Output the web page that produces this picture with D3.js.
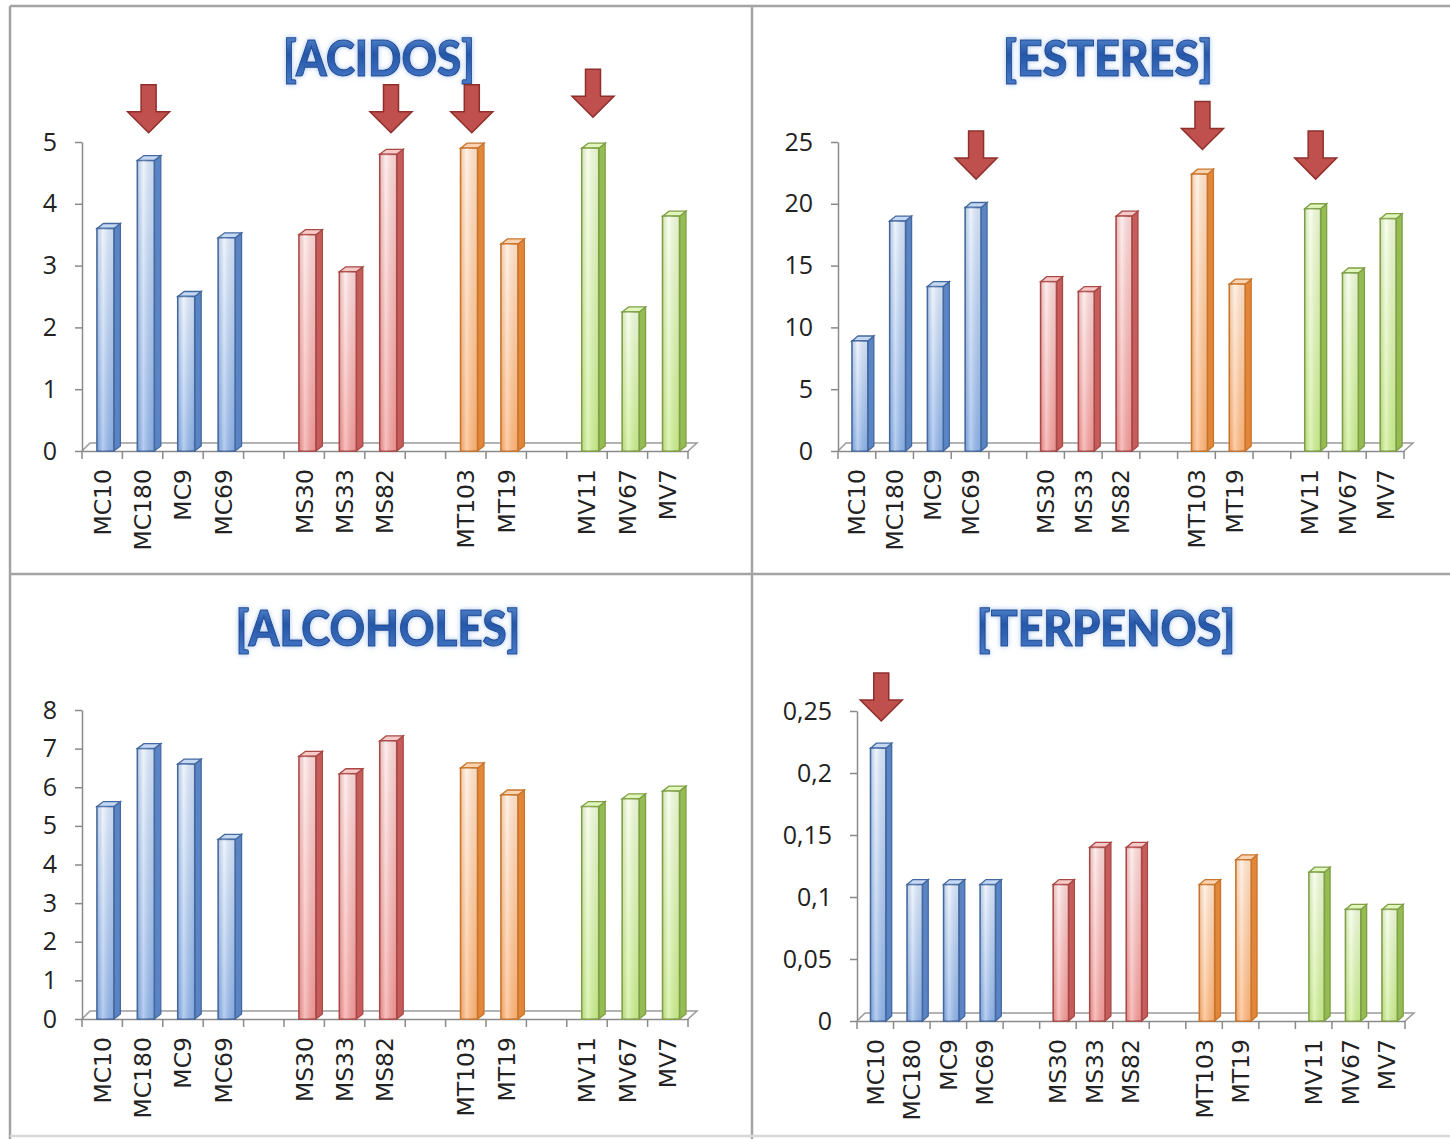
<!DOCTYPE html>
<html>
<head>
<meta charset="utf-8">
<script src="https://cdn.jsdelivr.net/npm/d3@7"></script>
<style>
  body { margin: 0; background: #fff; }
  svg { display: block; }
</style>
</head>
<body>
<svg id="chart" width="1450" height="1139"></svg>
<script>
// categories, grouped by family (a blank slot sits between groups)
const groups = [
  ["MC10", "MC180", "MC9", "MC69"],
  ["MS30", "MS33", "MS82"],
  ["MT103", "MT19"],
  ["MV11", "MV67", "MV7"]
];
const categories = groups.flat();

// values, same order as categories
const acidos    = [3.6, 4.7, 2.5, 3.45, 3.5, 2.9, 4.8, 4.9, 3.35, 4.9, 2.25, 3.8];
const esteres   = [8.9, 18.6, 13.3, 19.7, 13.7, 12.9, 19.0, 22.4, 13.5, 19.6, 14.4, 18.8];
const alcoholes = [5.5, 7.0, 6.6, 4.65, 6.8, 6.35, 7.2, 6.5, 5.8, 5.5, 5.7, 5.9];
const terpenos  = [0.22, 0.11, 0.11, 0.11, 0.11, 0.14, 0.14, 0.11, 0.13, 0.12, 0.09, 0.09];

// y tick labels
const ticksAcidos    = [0, 1, 2, 3, 4, 5];
const ticksEsteres   = [0, 5, 10, 15, 20, 25];
const ticksAlcoholes = [0, 1, 2, 3, 4, 5, 6, 7, 8];
const ticksTerpenos  = [0, 0.05, 0.1, 0.15, 0.2, 0.25];

// red arrows: [category, value at arrow tip]
const arrowsAcidos   = [["MC180", 5.15], ["MS82", 5.15], ["MT103", 5.15], ["MV11", 5.4]];
const arrowsEsteres  = [["MC69", 22], ["MT103", 24.4], ["MV11", 22]];
const arrowsTerpenos = [["MC10", 0.242]];

const slots = groups.flatMap((g, i) => i < groups.length - 1 ? g.concat(["gap" + i]) : g);
const groupOf = {};
groups.forEach((g, i) => g.forEach(c => groupOf[c] = i));

const palette = [
  {light: "#e6effc", dark: "#8fb3e8", side: "#5a84c4", top: "#c6d9f4", stroke: "#44699f"},
  {light: "#fde6e6", dark: "#f39d9b", side: "#c45d5b", top: "#f7c9c8", stroke: "#a94845"},
  {light: "#feebdb", dark: "#fbb37a", side: "#e2873a", top: "#fcd3b1", stroke: "#c8742b"},
  {light: "#f5fde6", dark: "#cbee8e", side: "#94bc52", top: "#e1f6bb", stroke: "#7f9f46"}
];

const comma = d3.formatLocale({decimal: ",", thousands: ".", grouping: [3], currency: ["", ""]});

const panels = [
  {title: "[ACIDOS]", values: acidos, ticks: ticksAcidos, max: 5, arrows: arrowsAcidos,
   x0: 82, x1: 688, y0: 451, yTop: 142, tx: 379, ty: 76, tlen: 192, fmt: d3.format("d")},
  {title: "[ESTERES]", values: esteres, ticks: ticksEsteres, max: 25, arrows: arrowsEsteres,
   x0: 838, x1: 1404, y0: 451, yTop: 142, tx: 1108, ty: 76, tlen: 210, fmt: d3.format("d")},
  {title: "[ALCOHOLES]", values: alcoholes, ticks: ticksAlcoholes, max: 8, arrows: [],
   x0: 82, x1: 688, y0: 1019, yTop: 710, tx: 378, ty: 646, tlen: 285, fmt: d3.format("d")},
  {title: "[TERPENOS]", values: terpenos, ticks: ticksTerpenos, max: 0.25, arrows: arrowsTerpenos,
   x0: 857, x1: 1405, y0: 1021, yTop: 711, tx: 1106, ty: 646, tlen: 259, fmt: comma.format("~g")}
];

const svg = d3.select("#chart");
const defs = svg.append("defs");

palette.forEach((p, i) => {
  const g = defs.append("linearGradient").attr("id", "front" + i)
      .attr("x1", 0).attr("y1", 0).attr("x2", 0).attr("y2", 1);
  g.append("stop").attr("offset", "0%").attr("stop-color", p.light);
  g.append("stop").attr("offset", "100%").attr("stop-color", p.dark);
  const h = defs.append("linearGradient").attr("id", "shine" + i)
      .attr("x1", 0).attr("y1", 0).attr("x2", 1).attr("y2", 0);
  h.append("stop").attr("offset", "0%").attr("stop-color", p.stroke).attr("stop-opacity", 0.25);
  h.append("stop").attr("offset", "35%").attr("stop-color", "#fff").attr("stop-opacity", 0.35);
  h.append("stop").attr("offset", "100%").attr("stop-color", p.stroke).attr("stop-opacity", 0.15);
});

const tg = defs.append("linearGradient").attr("id", "titleFill")
    .attr("x1", 0).attr("y1", 0).attr("x2", 0).attr("y2", 1);
tg.append("stop").attr("offset", "0%").attr("stop-color", "#6b9be0");
tg.append("stop").attr("offset", "45%").attr("stop-color", "#2557a8");
tg.append("stop").attr("offset", "100%").attr("stop-color", "#4a7dcc");

const glow = defs.append("filter").attr("id", "glow")
    .attr("x", "-10%").attr("y", "-30%").attr("width", "120%").attr("height", "160%");
glow.append("feGaussianBlur").attr("in", "SourceAlpha").attr("stdDeviation", 2.5).attr("result", "b");
glow.append("feFlood").attr("flood-color", "#9cc0ee").attr("flood-opacity", 0.9);
glow.append("feComposite").attr("in2", "b").attr("operator", "in").attr("result", "g");
const mg = glow.append("feMerge");
mg.append("feMergeNode").attr("in", "g");
mg.append("feMergeNode").attr("in", "SourceGraphic");

// panel frame
const frame = svg.append("g").attr("stroke", "#a3a3a3").attr("stroke-width", 2.5);
frame.append("line").attr("x1", 10).attr("y1", 6).attr("x2", 1450).attr("y2", 6);
frame.append("line").attr("x1", 10).attr("y1", 6).attr("x2", 10).attr("y2", 1139);
frame.append("line").attr("x1", 752).attr("y1", 6).attr("x2", 752).attr("y2", 1139);
frame.append("line").attr("x1", 10).attr("y1", 574).attr("x2", 1450).attr("y2", 574);
frame.append("line").attr("x1", 10).attr("y1", 1136).attr("x2", 1450).attr("y2", 1136)
    .attr("stroke", "#d8d8d8");

const axisColor = "#8a8a8a";
const depth = 8;

panels.forEach(p => {
  const g = svg.append("g");

  const x = d3.scaleBand().domain(slots).range([p.x0, p.x1]).padding(0);
  const y = d3.scaleLinear().domain([0, p.max]).range([p.y0, p.yTop]);
  const bw = x.bandwidth();

  // title
  g.append("text")
      .attr("x", p.tx).attr("y", p.ty)
      .attr("text-anchor", "middle")
      .attr("font-family", "Lato, 'Open Sans', sans-serif")
      .attr("font-weight", 900)
      .attr("font-size", 50)
      .attr("textLength", p.tlen)
      .attr("lengthAdjust", "spacingAndGlyphs")
      .attr("fill", "url(#titleFill)")
      .attr("stroke", "#1d4690")
      .attr("stroke-width", 1)
      .attr("filter", "url(#glow)")
      .text(p.title);

  // floor
  g.append("path")
      .attr("d", `M${p.x0},${p.y0} L${p.x0 + depth},${p.y0 - depth} L${p.x1 + depth + 1},${p.y0 - depth} L${p.x1},${p.y0}`)
      .attr("fill", "none").attr("stroke", "#9a9a9a").attr("stroke-width", 1.5);

  // y axis
  const ya = g.append("g")
      .attr("transform", `translate(${p.x0},0)`)
      .call(d3.axisLeft(y).tickValues(p.ticks).tickFormat(p.fmt).tickSize(7).tickSizeOuter(0).tickPadding(18));
  ya.select(".domain").attr("stroke", axisColor).attr("stroke-width", 1.5);
  ya.selectAll(".tick line").attr("stroke", axisColor).attr("stroke-width", 1.5);
  ya.selectAll(".tick text")
      .attr("font-family", "'Open Sans', sans-serif")
      .attr("font-size", 25).attr("fill", "#222");

  // x axis: labels at slot centres, tick marks at slot edges
  const xa = g.append("g")
      .attr("transform", `translate(0,${p.y0})`)
      .call(d3.axisBottom(x).tickSize(0).tickFormat(d => d.startsWith("gap") ? "" : d));
  xa.select(".domain").attr("stroke", axisColor).attr("stroke-width", 1.5);
  xa.selectAll(".tick text")
      .attr("font-family", "'DejaVu Sans', sans-serif")
      .attr("font-size", 23.5).attr("fill", "#222")
      .attr("text-anchor", "end")
      .attr("transform", "rotate(-90)")
      .attr("x", -18).attr("y", 0).attr("dy", "0.36em");
  xa.selectAll(".edge")
      .data(slots.map(s => x(s)).concat([p.x1]))
      .join("line")
      .attr("class", "edge")
      .attr("x1", d => d).attr("x2", d => d)
      .attr("y1", 0).attr("y2", 8)
      .attr("stroke", axisColor).attr("stroke-width", 1.5);

  // 3D columns
  const data = categories.map((c, i) => ({c, v: p.values[i], k: groupOf[c]}));
  const bar = g.selectAll(".bar").data(data).join("g").attr("class", "bar");
  const fx = d => x(d.c) + 0.37 * bw;
  const fw = 0.42 * bw;
  const dx = 0.16 * bw, dy = -5;

  bar.append("path")
      .attr("d", d => {
        const xr = fx(d) + fw, yt = y(d.v);
        return `M${xr},${yt} L${xr + dx},${yt + dy} L${xr + dx},${p.y0 + dy} L${xr},${p.y0} Z`;
      })
      .attr("fill", d => palette[d.k].side)
      .attr("stroke", d => palette[d.k].stroke).attr("stroke-width", 1.3);

  bar.append("path")
      .attr("d", d => {
        const xl = fx(d), yt = y(d.v);
        return `M${xl},${yt} L${xl + dx},${yt + dy} L${xl + fw + dx},${yt + dy} L${xl + fw},${yt} Z`;
      })
      .attr("fill", d => palette[d.k].top)
      .attr("stroke", d => palette[d.k].stroke).attr("stroke-width", 1.3);

  bar.append("rect")
      .attr("x", fx).attr("y", d => y(d.v))
      .attr("width", fw).attr("height", d => p.y0 - y(d.v))
      .attr("fill", d => `url(#front${d.k})`)
      .attr("stroke", d => palette[d.k].stroke).attr("stroke-width", 1.6);

  bar.append("rect")
      .attr("x", fx).attr("y", d => y(d.v))
      .attr("width", fw).attr("height", d => p.y0 - y(d.v))
      .attr("fill", d => `url(#shine${d.k})`);

  // arrows
  g.selectAll(".arrow").data(p.arrows).join("path")
      .attr("class", "arrow")
      .attr("d", d => {
        const cx = x(d[0]) + bw / 2 + 6, ty = y(d[1]);
        return `M${cx - 7.5},${ty - 48} h15 v27 h13.5 L${cx},${ty} L${cx - 21},${ty - 21} h13.5 Z`;
      })
      .attr("fill", "#c0504d").attr("stroke", "#8e2f2c").attr("stroke-width", 1.5)
      .attr("stroke-linejoin", "miter");
});
</script>
</body>
</html>
